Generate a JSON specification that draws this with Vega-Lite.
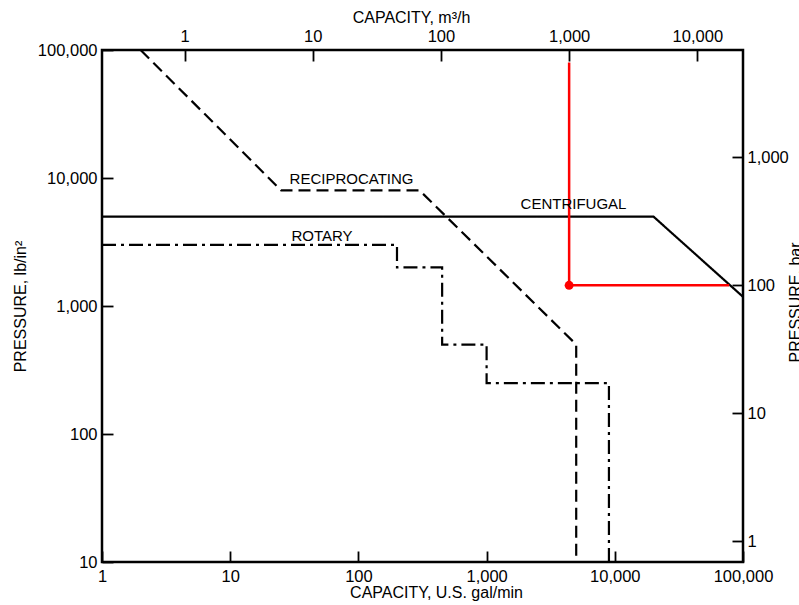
{
  "$schema": "https://vega.github.io/schema/vega-lite/v6.json",
  "width": 641,
  "height": 512,
  "autosize": {"type": "none"},
  "padding": {"left": 102, "top": 50, "right": 56, "bottom": 43},
  "background": "white",
  "config": {
    "font": "Liberation Sans",
    "view": {"stroke": "black", "strokeWidth": 2.5},
    "axis": {
      "domain": false,
      "grid": false,
      "ticks": true,
      "tickColor": "black",
      "tickWidth": 1.8,
      "tickSize": -11,
      "labelPadding": 16,
      "labelFont": "Liberation Sans",
      "labelFontSize": 16.5,
      "labelColor": "black",
      "titleFont": "Liberation Sans",
      "titleFontSize": 16,
      "titleFontWeight": "normal",
      "titleColor": "black",
      "labelFlush": false,
      "labelOverlap": false,
      "labelBound": false,
      "format": ","
    }
  },
  "datasets": {
    "curves": [
      {"s": "RECIPROCATING", "i": 1, "q": 2, "p": 100000},
      {"s": "RECIPROCATING", "i": 2, "q": 25, "p": 8000},
      {"s": "RECIPROCATING", "i": 3, "q": 300, "p": 8000},
      {"s": "RECIPROCATING", "i": 4, "q": 5000, "p": 500},
      {"s": "RECIPROCATING", "i": 5, "q": 5000, "p": 10},
      {"s": "ROTARY", "i": 1, "q": 1, "p": 3000},
      {"s": "ROTARY", "i": 2, "q": 200, "p": 3000},
      {"s": "ROTARY", "i": 3, "q": 200, "p": 2000},
      {"s": "ROTARY", "i": 4, "q": 450, "p": 2000},
      {"s": "ROTARY", "i": 5, "q": 450, "p": 500},
      {"s": "ROTARY", "i": 6, "q": 1000, "p": 500},
      {"s": "ROTARY", "i": 7, "q": 1000, "p": 250},
      {"s": "ROTARY", "i": 8, "q": 9000, "p": 250},
      {"s": "ROTARY", "i": 9, "q": 9000, "p": 10},
      {"s": "CENTRIFUGAL", "i": 1, "q": 1, "p": 5000},
      {"s": "CENTRIFUGAL", "i": 2, "q": 20000, "p": 5000},
      {"s": "CENTRIFUGAL", "i": 3, "q": 100000, "p": 1180}
    ],
    "red": [
      {"i": 1, "q": 4403, "p": 80000},
      {"i": 2, "q": 4403, "p": 1450},
      {"i": 3, "q": 78000, "p": 1450}
    ],
    "dot": [
      {"q": 4403, "p": 1450}
    ],
    "labels": [
      {"t": "RECIPROCATING", "q": 88.4, "p": 9820},
      {"t": "ROTARY", "q": 52, "p": 3524},
      {"t": "CENTRIFUGAL", "q": 4762, "p": 6266}
    ],
    "aux": [
      {"q2": 0.22712, "p2": 0.68948},
      {"q2": 22712, "p2": 6894.8}
    ]
  },
  "layer": [
    {
      "encoding": {
        "x": {
          "field": "q",
          "type": "quantitative",
          "scale": {"type": "log", "domain": [1, 100000], "nice": false},
          "axis": {
            "orient": "bottom",
            "values": [1, 10, 100, 1000, 10000, 100000],
            "title": "CAPACITY, U.S. gal/min",
            "titleX": 334,
            "titleY": 30,
            "titleAlign": "center",
            "titleBaseline": "middle",
            "labelPadding": 17
          }
        },
        "y": {
          "field": "p",
          "type": "quantitative",
          "scale": {"type": "log", "domain": [10, 100000], "nice": false},
          "axis": {
            "orient": "left",
            "values": [10, 100, 1000, 10000, 100000],
            "title": "PRESSURE, lb/in²",
            "titleX": -82,
            "titleY": 256,
            "titleAngle": 270,
            "titleAlign": "center",
            "titleBaseline": "middle"
          }
        }
      },
      "layer": [
        {
          "data": {"name": "curves"},
          "mark": {"type": "line", "strokeWidth": 2.2, "color": "black"},
          "encoding": {
            "detail": {"field": "s"},
            "order": {"field": "i", "type": "quantitative"},
            "strokeDash": {
              "field": "s",
              "type": "nominal",
              "scale": {
                "domain": ["CENTRIFUGAL", "RECIPROCATING", "ROTARY"],
                "range": [[1, 0], [12, 6], [14, 5, 3, 5]]
              },
              "legend": null
            }
          }
        },
        {
          "data": {"name": "red"},
          "mark": {"type": "line", "strokeWidth": 2.5, "color": "#ff0000"},
          "encoding": {
            "order": {"field": "i", "type": "quantitative"}
          }
        },
        {
          "data": {"name": "dot"},
          "mark": {"type": "point", "filled": true, "color": "#ff0000", "size": 80, "opacity": 1}
        },
        {
          "data": {"name": "labels"},
          "mark": {"type": "text", "fontSize": 15, "color": "black", "baseline": "middle", "align": "center"},
          "encoding": {
            "text": {"field": "t", "type": "nominal"}
          }
        }
      ]
    },
    {
      "data": {"name": "aux"},
      "mark": {"type": "point", "opacity": 0},
      "encoding": {
        "x": {
          "field": "q2",
          "type": "quantitative",
          "scale": {"type": "log", "domain": [0.22712, 22712], "nice": false},
          "axis": {
            "orient": "top",
            "values": [1, 10, 100, 1000, 10000],
            "title": "CAPACITY, m³/h",
            "titleX": 309,
            "titleY": -33,
            "titleAlign": "center",
            "titleBaseline": "middle",
            "labelPadding": 17
          }
        },
        "y": {
          "field": "p2",
          "type": "quantitative",
          "scale": {"type": "log", "domain": [0.68948, 6894.8], "nice": false},
          "axis": {
            "orient": "right",
            "values": [1, 10, 100, 1000],
            "title": "PRESSURE, bar",
            "titleX": 52,
            "titleY": 252,
            "titleAngle": 270,
            "titleAlign": "center",
            "titleBaseline": "middle",
            "labelPadding": 15
          }
        }
      }
    }
  ],
  "resolve": {"scale": {"x": "independent", "y": "independent"}}
}
